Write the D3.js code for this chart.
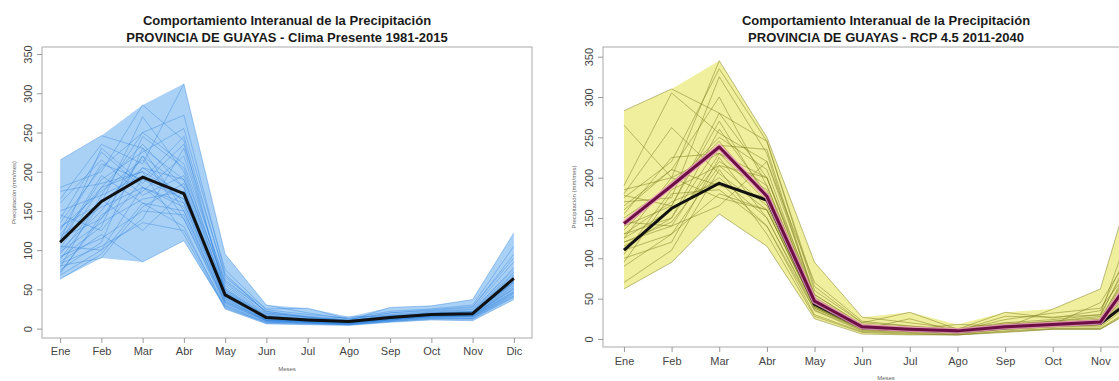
<!DOCTYPE html>
<html>
<head>
<meta charset="utf-8">
<script src="https://cdn.jsdelivr.net/npm/d3@7"></script>
<style>
  body { margin: 0; background: #fff; }
  svg { display: block; font-family: 'Liberation Sans', Arial, sans-serif; }
  .tick text { fill: #444; }
</style>
</head>
<body>
<div id="chart"></div>
<script>
// months on the x axis
const months = ['Ene', 'Feb', 'Mar', 'Abr', 'May', 'Jun', 'Jul', 'Ago', 'Sep', 'Oct', 'Nov', 'Dic'];
const yTicks = [0, 50, 100, 150, 200, 250, 300, 350];

// black line: mean of present climate 1981-2015
const meanPresent = [110, 162, 193, 172, 43, 14, 11, 9, 14, 18, 19, 64];
// maroon line: mean of RCP 4.5 2011-2040
const meanRcp45 = [143, 190, 238, 177, 47, 15, 12, 10, 15, 18, 21, 102];

// yearly series, present climate (one row per year)
const yearsPresent = [
  [215, 246, 230, 190, 60, 22, 14, 10, 15, 20, 22, 78],
  [180, 200, 285, 240, 45, 15, 11, 9, 14, 18, 19, 62],
  [165, 235, 210, 312, 95, 30, 20, 12, 18, 22, 25, 85],
  [150, 170, 250, 272, 70, 20, 15, 10, 16, 19, 21, 70],
  [140, 225, 180, 160, 40, 12, 9, 8, 12, 17, 18, 55],
  [130, 160, 270, 200, 55, 18, 13, 9, 14, 18, 20, 66],
  [125, 210, 190, 245, 65, 25, 26, 12, 20, 24, 28, 90],
  [120, 180, 235, 180, 38, 10, 8, 7, 11, 16, 17, 50],
  [115, 140, 205, 170, 42, 14, 10, 8, 13, 17, 18, 60],
  [110, 195, 160, 150, 35, 11, 9, 7, 12, 15, 16, 48],
  [105, 100, 140, 230, 50, 16, 12, 9, 14, 19, 20, 65],
  [100, 150, 220, 140, 30, 9, 7, 6, 10, 14, 15, 45],
  [95, 165, 125, 175, 44, 13, 10, 8, 13, 18, 19, 58],
  [90, 130, 245, 205, 52, 17, 12, 10, 16, 20, 22, 72],
  [85, 120, 85, 112, 28, 7, 6, 5, 9, 12, 12, 40],
  [80, 90, 155, 185, 48, 15, 11, 9, 15, 19, 21, 68],
  [75, 110, 230, 150, 32, 10, 8, 6, 11, 15, 15, 42],
  [70, 145, 175, 220, 58, 19, 14, 10, 17, 21, 24, 75],
  [63, 95, 160, 130, 25, 6, 5, 4, 8, 11, 10, 37],
  [175, 185, 200, 120, 26, 8, 7, 5, 9, 13, 13, 44],
  [160, 215, 170, 195, 47, 15, 11, 9, 14, 18, 20, 60],
  [145, 125, 190, 165, 40, 12, 9, 8, 12, 16, 17, 52],
  [135, 205, 250, 210, 62, 22, 16, 11, 20, 23, 27, 95],
  [128, 175, 215, 160, 36, 11, 9, 7, 12, 16, 17, 54],
  [118, 155, 180, 140, 33, 10, 8, 6, 11, 15, 16, 47],
  [108, 190, 225, 255, 75, 24, 18, 13, 22, 25, 30, 105],
  [98, 135, 165, 175, 45, 14, 10, 8, 13, 17, 18, 57],
  [92, 115, 150, 145, 34, 10, 8, 6, 11, 15, 15, 46],
  [88, 160, 205, 190, 50, 16, 12, 9, 14, 19, 21, 64],
  [83, 105, 135, 125, 29, 8, 7, 5, 10, 13, 13, 41],
  [78, 170, 195, 165, 42, 13, 10, 8, 13, 17, 19, 59],
  [72, 140, 220, 180, 46, 14, 10, 8, 14, 18, 20, 62],
  [68, 100, 180, 155, 38, 11, 9, 7, 12, 16, 17, 51],
  [112, 230, 185, 235, 68, 20, 15, 10, 27, 29, 37, 122],
  [102, 180, 200, 170, 44, 14, 11, 15, 16, 18, 19, 63],
];

// yearly series, RCP 4.5 2011-2040
const yearsRcp45 = [
  [283, 310, 280, 200, 55, 18, 14, 10, 16, 20, 24, 110],
  [265, 200, 345, 250, 95, 27, 20, 13, 20, 24, 30, 140],
  [190, 305, 255, 220, 70, 22, 16, 11, 18, 22, 26, 120],
  [180, 262, 205, 160, 40, 13, 10, 8, 14, 17, 20, 90],
  [175, 220, 335, 245, 60, 20, 33, 12, 33, 26, 35, 160],
  [170, 175, 325, 230, 50, 16, 12, 10, 15, 18, 21, 100],
  [160, 210, 300, 190, 45, 15, 12, 9, 15, 18, 20, 95],
  [150, 190, 250, 210, 48, 14, 11, 9, 14, 37, 62, 260],
  [140, 165, 270, 175, 42, 14, 11, 9, 14, 17, 19, 80],
  [130, 150, 240, 180, 44, 15, 12, 10, 16, 19, 22, 105],
  [120, 140, 230, 170, 38, 12, 10, 8, 13, 16, 18, 70],
  [110, 130, 215, 200, 47, 16, 13, 10, 16, 19, 22, 95],
  [100, 120, 225, 150, 35, 10, 8, 6, 12, 15, 15, 60],
  [95, 180, 185, 140, 30, 9, 7, 5, 10, 13, 13, 50],
  [70, 110, 210, 130, 28, 8, 6, 5, 9, 12, 12, 45],
  [62, 95, 155, 115, 25, 6, 5, 5, 8, 12, 12, 48],
  [185, 200, 175, 160, 40, 12, 10, 8, 12, 15, 18, 85],
  [178, 165, 280, 245, 65, 20, 16, 12, 18, 22, 28, 150],
  [165, 210, 190, 175, 42, 14, 11, 9, 15, 18, 22, 100],
  [155, 225, 230, 190, 48, 15, 12, 10, 16, 19, 21, 110],
  [145, 140, 165, 220, 55, 17, 13, 10, 17, 20, 23, 120],
  [135, 195, 240, 235, 52, 16, 13, 11, 17, 21, 24, 130],
  [125, 160, 200, 150, 38, 12, 9, 8, 13, 16, 18, 75],
  [115, 150, 260, 180, 45, 14, 11, 9, 15, 18, 20, 95],
  [105, 185, 215, 165, 40, 13, 10, 8, 14, 17, 19, 90],
  [140, 190, 245, 175, 46, 15, 12, 10, 28, 27, 30, 200],
  [130, 170, 195, 140, 36, 11, 9, 7, 12, 15, 17, 65],
  [120, 145, 220, 185, 50, 16, 12, 10, 24, 32, 38, 115],
  [90, 130, 180, 160, 40, 12, 25, 9, 20, 18, 45, 140],
  [125, 200, 230, 200, 46, 15, 12, 18, 16, 20, 22, 100],
];

const titleLine1 = 'Comportamiento Interanual de la Precipitación';
const titleLeft = 'PROVINCIA DE GUAYAS - Clima Presente 1981-2015';
const titleRight = 'PROVINCIA DE GUAYAS - RCP 4.5 2011-2040';
const xLabel = 'Meses';
const yLabel = 'Precipitación (mm/mes)';

const width = 1119;
const height = 381;

const svg = d3.select('#chart')
  .append('svg')
  .attr('width', width)
  .attr('height', height);

function drawPanel(p) {
  const x = d3.scaleLinear()
    .domain([0.56, 12.44])
    .range([p.left, p.right]);

  const y = d3.scaleLinear()
    .domain(p.yDomain)
    .range([p.bottom, p.top]);

  const g = svg.append('g');

  // min-max envelope of all years
  const band = months.map((m, i) => ({
    i: i + 1,
    lo: d3.min(p.years, (s) => s[i]),
    hi: d3.max(p.years, (s) => s[i]),
  }));

  const area = d3.area()
    .x((d) => x(d.i))
    .y0((d) => y(d.lo))
    .y1((d) => y(d.hi));

  const line = d3.line()
    .x((d, i) => x(i + 1))
    .y((d) => y(d));

  g.append('path')
    .datum(band)
    .attr('d', area)
    .attr('fill', p.bandFill);

  g.selectAll('.year')
    .data(p.years)
    .join('path')
    .attr('class', 'year')
    .attr('d', line)
    .attr('fill', 'none')
    .attr('stroke', p.lineColor)
    .attr('stroke-width', 1);

  g.append('path')
    .datum(meanPresent)
    .attr('d', line)
    .attr('fill', 'none')
    .attr('stroke', '#111')
    .attr('stroke-width', 3)
    .attr('stroke-linejoin', 'round');

  if (p.future) {
    g.append('path')
      .datum(p.future)
      .attr('d', line)
      .attr('fill', 'none')
      .attr('stroke', 'rgba(235,150,190,0.85)')
      .attr('stroke-width', 5.5)
      .attr('stroke-linejoin', 'round');

    g.append('path')
      .datum(p.future)
      .attr('d', line)
      .attr('fill', 'none')
      .attr('stroke', '#6b0f45')
      .attr('stroke-width', 3)
      .attr('stroke-linejoin', 'round');
  }

  // plot box
  g.append('rect')
    .attr('x', p.left)
    .attr('y', p.top)
    .attr('width', p.right - p.left)
    .attr('height', p.bottom - p.top)
    .attr('fill', 'none')
    .attr('stroke', '#aaa')
    .attr('stroke-width', 1);

  // only months that fall inside the picture get a label
  const shown = d3.range(1, 13).filter((d) => x(d) < width - 10);

  const xAxis = g.append('g')
    .attr('transform', `translate(0, ${p.bottom})`)
    .call(d3.axisBottom(x)
      .tickValues(shown)
      .tickFormat((d) => months[d - 1])
      .tickSizeOuter(0)
      .tickSize(5)
      .tickPadding(p.xPad));
  xAxis.select('.domain').remove();
  xAxis.selectAll('.tick line').attr('stroke', '#999');
  xAxis.selectAll('.tick text')
    .attr('font-size', 11)
    .attr('font-family', 'Liberation Sans, Arial, sans-serif');

  const yAxis = g.append('g')
    .attr('transform', `translate(${p.left}, 0)`)
    .call(d3.axisLeft(y)
      .tickValues(yTicks)
      .tickSizeOuter(0)
      .tickSize(5));
  yAxis.select('.domain').remove();
  yAxis.selectAll('.tick line').attr('stroke', '#999');
  yAxis.selectAll('.tick text')
    .attr('font-size', 11)
    .attr('font-family', 'Liberation Sans, Arial, sans-serif')
    .attr('text-anchor', 'middle')
    .attr('dy', 0)
    .attr('x', 0)
    .attr('transform', `translate(${p.yTickX - p.left}, 0) rotate(-90)`)
    .attr('dominant-baseline', 'middle');

  // titles
  const cx = (p.left + p.right) / 2;
  g.append('text')
    .attr('x', cx)
    .attr('y', 25)
    .attr('text-anchor', 'middle')
    .attr('font-size', 13)
    .attr('font-weight', 'bold')
    .attr('fill', '#1a1a1a')
    .text(titleLine1);
  g.append('text')
    .attr('x', cx)
    .attr('y', 42)
    .attr('text-anchor', 'middle')
    .attr('font-size', 13)
    .attr('font-weight', 'bold')
    .attr('fill', '#1a1a1a')
    .text(p.title);

  g.append('text')
    .attr('x', cx)
    .attr('y', p.xLabelY)
    .attr('text-anchor', 'middle')
    .attr('font-size', 6)
    .attr('fill', '#666')
    .text(xLabel);

  g.append('text')
    .attr('transform', `translate(${p.yLabelX}, ${(p.top + p.bottom) / 2}) rotate(-90)`)
    .attr('text-anchor', 'middle')
    .attr('font-size', 6)
    .attr('fill', '#666')
    .text(yLabel);
}

drawPanel({
  left: 42, right: 532, top: 47, bottom: 338,
  yDomain: [-12, 359],
  years: yearsPresent,
  bandFill: '#a9d0f5',
  lineColor: 'rgba(45,130,220,0.38)',
  title: titleLeft,
  xPad: 4,
  yTickX: 29,
  yLabelX: 16,
  xLabelY: 371,
});

drawPanel({
  left: 603, right: 1169, top: 47, bottom: 347,
  yDomain: [-10, 362],
  years: yearsRcp45,
  bandFill: '#efef9e',
  lineColor: 'rgba(125,125,30,0.5)',
  future: meanRcp45,
  title: titleRight,
  xPad: 5,
  yTickX: 590,
  yLabelX: 576,
  xLabelY: 380,
});
</script>
</body>
</html>
